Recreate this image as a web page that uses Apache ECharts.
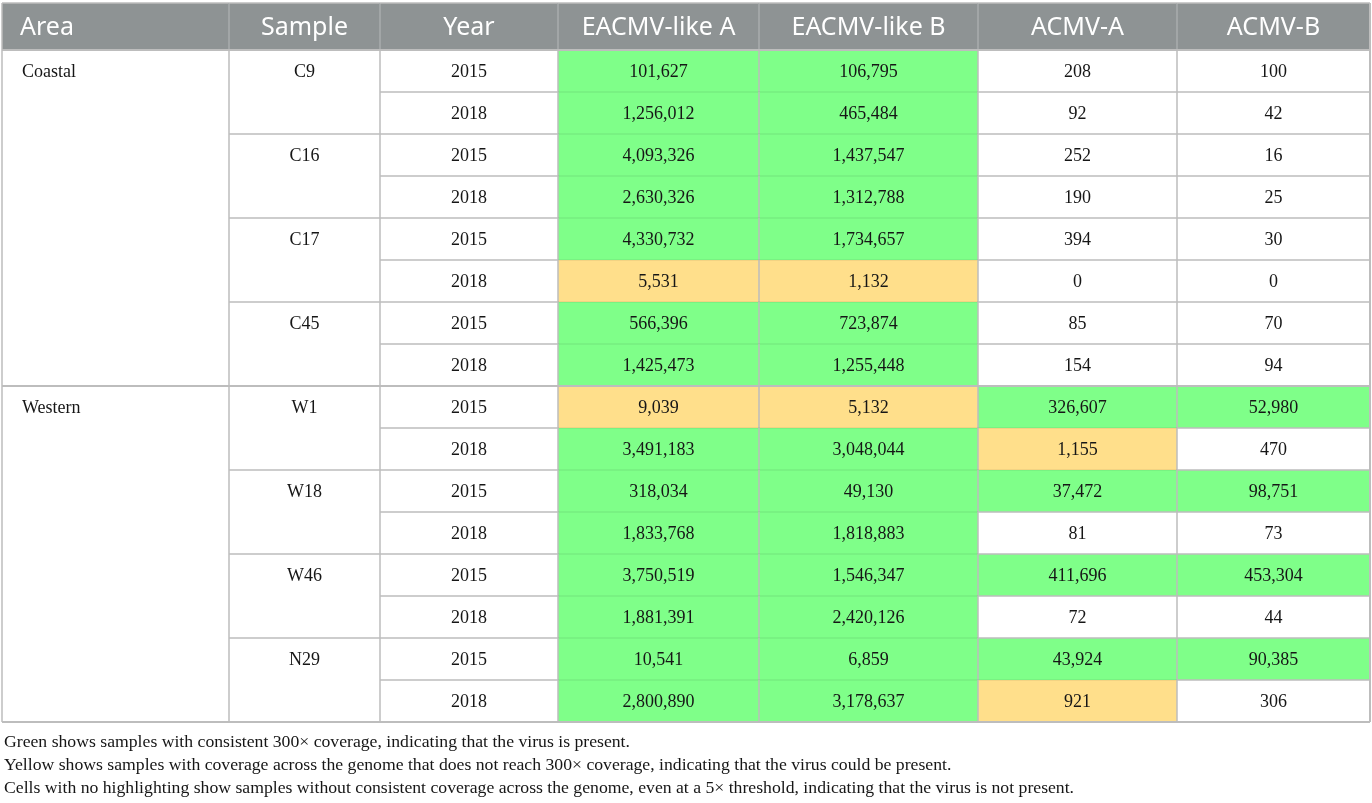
<!DOCTYPE html>
<html>
<head>
<meta charset="utf-8">
<script src="https://cdn.jsdelivr.net/npm/echarts@6/dist/echarts.min.js"></script>
<style>
  html, body { margin: 0; padding: 0; background: #fff; }
  #chart { width: 1372px; height: 803px; }
</style>
</head>
<body>
<div id="chart"></div>
<script>
// table data
var columns = ['Area', 'Sample', 'Year', 'EACMV-like A', 'EACMV-like B', 'ACMV-A', 'ACMV-B'];
var areas = ['Coastal', 'Western'];
var samples = ['C9', 'C16', 'C17', 'C45', 'W1', 'W18', 'W46', 'N29'];
var years = ['2015', '2018'];

var eacmvA = [101627, 1256012, 4093326, 2630326, 4330732, 5531, 566396, 1425473,
              9039, 3491183, 318034, 1833768, 3750519, 1881391, 10541, 2800890];
var eacmvB = [106795, 465484, 1437547, 1312788, 1734657, 1132, 723874, 1255448,
              5132, 3048044, 49130, 1818883, 1546347, 2420126, 6859, 3178637];
var acmvA = [208, 92, 252, 190, 394, 0, 85, 154,
             326607, 1155, 37472, 81, 411696, 72, 43924, 921];
var acmvB = [100, 42, 16, 25, 30, 0, 70, 94,
             52980, 470, 98751, 73, 453304, 44, 90385, 306];

// coverage: g = consistent 300x, y = below 300x, n = none
var covEacmvA = ['g','g','g','g','g','y','g','g','y','g','g','g','g','g','g','g'];
var covEacmvB = ['g','g','g','g','g','y','g','g','y','g','g','g','g','g','g','g'];
var covAcmvA  = ['n','n','n','n','n','n','n','n','g','y','g','n','g','n','g','y'];
var covAcmvB  = ['n','n','n','n','n','n','n','n','g','n','g','n','g','n','g','n'];

var notes = [
  'Green shows samples with consistent 300\u00d7 coverage, indicating that the virus is present.',
  'Yellow shows samples with coverage across the genome that does not reach 300\u00d7 coverage, indicating that the virus could be present.',
  'Cells with no highlighting show samples without consistent coverage across the genome, even at a 5\u00d7 threshold, indicating that the virus is not present.'
];

// layout
var colEdges = [0, 227, 378, 556, 757, 976, 1175, 1368];
var fills = { g: '#7fff89', y: '#ffdf8b', n: '#ffffff' };
var lineColor = '#bdbdbd';
var serif = '"Liberation Serif", "DejaVu Serif", serif';
var sans = '"Noto Sans", "Open Sans", sans-serif';

function fmt(v) { return v.toLocaleString('en-US'); }

// build cell list
var cells = [];
areas.forEach(function (a, i) {
  cells.push({ c: 0, r: i * 8, span: 8, text: a, fill: 'n' });
});
samples.forEach(function (s, i) {
  cells.push({ c: 1, r: i * 2, span: 2, text: s, fill: 'n' });
});
var numCols = [[eacmvA, covEacmvA], [eacmvB, covEacmvB], [acmvA, covAcmvA], [acmvB, covAcmvB]];
for (var r = 0; r < 16; r++) {
  cells.push({ c: 2, r: r, span: 1, text: years[r % 2], fill: 'n' });
  numCols.forEach(function (nc, k) {
    cells.push({ c: 3 + k, r: r, span: 1, text: fmt(nc[0][r]), fill: nc[1][r] });
  });
}
function fillAt(c, r) {
  if (c < 3 || r < 0) return 'n';
  return numCols[c - 3][1][r];
}

var chart = echarts.init(document.getElementById('chart'));

function bodyItem(params, api) {
  var d = cells[params.dataIndex];
  var p0 = api.coord([colEdges[d.c], d.r]);
  var p1 = api.coord([colEdges[d.c + 1], d.r + d.span]);
  var rowH = api.size([0, 1])[1];
  var x = p0[0], y = p0[1], w = p1[0] - p0[0], h = p1[1] - p0[1];
  var children = [{
    type: 'rect',
    shape: { x: x, y: y, width: w, height: h },
    style: { fill: fills[d.fill] }
  }];
  // top edge: faint between two coloured cells inside a group
  var above = fillAt(d.c, d.r - 1);
  var faint = d.fill !== 'n' && above !== 'n' && d.r % 8 !== 0;
  children.push({
    type: 'line',
    shape: { x1: x, y1: y, x2: x + w, y2: y },
    style: { stroke: faint ? 'rgba(0,0,0,0.07)' : lineColor, lineWidth: d.r % 8 === 0 ? 2 : 1.5 }
  });
  children.push({
    type: 'line',
    shape: { x1: x, y1: y, x2: x, y2: y + h },
    style: { stroke: lineColor, lineWidth: 1.5 }
  });
  if (d.c === 6) {
    children.push({ type: 'line', shape: { x1: x + w, y1: y, x2: x + w, y2: y + h },
      style: { stroke: lineColor, lineWidth: 2 } });
  }
  if (d.r + d.span === 16) {
    children.push({ type: 'line', shape: { x1: x, y1: y + h, x2: x + w, y2: y + h },
      style: { stroke: lineColor, lineWidth: 2 } });
  }
  children.push({
    type: 'text',
    style: {
      text: d.text,
      x: d.c === 0 ? x + 20 : x + w / 2,
      y: y + rowH / 2 + 1,
      align: d.c === 0 ? 'left' : 'center',
      verticalAlign: 'middle',
      fill: '#161616',
      font: '18px ' + serif
    }
  });
  return { type: 'group', children: children };
}

function headItem(params, api) {
  var c = params.dataIndex;
  var p0 = api.coord([colEdges[c], 0]);
  var p1 = api.coord([colEdges[c + 1], 1]);
  var x = p0[0], y = p0[1], w = p1[0] - p0[0], h = p1[1] - p0[1];
  var children = [{
    type: 'rect',
    shape: { x: x, y: y, width: w, height: h },
    style: { fill: '#8e9394' }
  }, {
    type: 'line',
    shape: { x1: x, y1: y, x2: x, y2: y + h },
    style: { stroke: c === 0 ? lineColor : '#a9adae', lineWidth: 1.5 }
  }, {
    type: 'line',
    shape: { x1: x, y1: y, x2: x + w, y2: y },
    style: { stroke: lineColor, lineWidth: 1.5 }
  }, {
    type: 'text',
    style: {
      text: columns[c],
      x: c === 0 ? x + 18 : x + w / 2,
      y: y + h / 2 + 1,
      align: c === 0 ? 'left' : 'center',
      verticalAlign: 'middle',
      fill: '#ffffff',
      font: '25px ' + sans
    }
  }];
  if (c === 6) {
    children.push({ type: 'line', shape: { x1: x + w, y1: y, x2: x + w, y2: y + h },
      style: { stroke: lineColor, lineWidth: 2 } });
  }
  return { type: 'group', children: children };
}

var option = {
  animation: false,
  grid: [
    { left: 2, right: 2, top: 3, height: 47 },
    { left: 2, right: 2, top: 50, height: 672 }
  ],
  xAxis: [
    { type: 'value', gridIndex: 0, min: 0, max: 1368, show: false },
    { type: 'value', gridIndex: 1, min: 0, max: 1368, show: false }
  ],
  yAxis: [
    { type: 'value', gridIndex: 0, min: 0, max: 1, inverse: true, show: false },
    { type: 'value', gridIndex: 1, min: 0, max: 16, inverse: true, show: false }
  ],
  graphic: notes.map(function (t, i) {
    return {
      type: 'text',
      x: 4,
      y: 742 + i * 23,
      style: { text: t, fill: '#161616', font: '17.7px ' + serif, verticalAlign: 'middle' }
    };
  }),
  series: [
    {
      type: 'custom',
      xAxisIndex: 0,
      yAxisIndex: 0,
      renderItem: headItem,
      data: columns.map(function (c, i) { return [colEdges[i], 0]; })
    },
    {
      type: 'custom',
      xAxisIndex: 1,
      yAxisIndex: 1,
      renderItem: bodyItem,
      data: cells.map(function (d) { return [colEdges[d.c], d.r, d.span]; })
    }
  ]
};

chart.setOption(option);
</script>
</body>
</html>
